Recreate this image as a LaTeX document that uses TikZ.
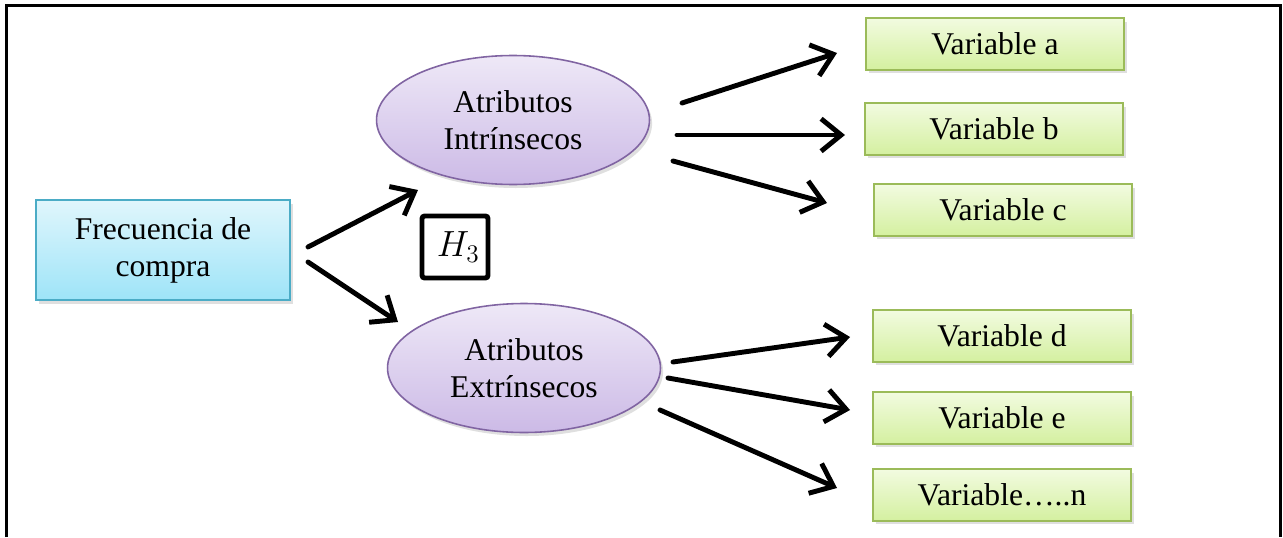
\documentclass[tikz,border=0pt]{standalone}
\usepackage{fontspec}
\setmainfont{Liberation Serif}
\usetikzlibrary{arrows.meta,shapes.geometric,shadows}

\definecolor{srcline}{RGB}{75,172,198}
\definecolor{srctop}{RGB}{224,246,252}
\definecolor{srcbot}{RGB}{158,228,248}
\definecolor{attrline}{RGB}{128,100,162}
\definecolor{attrtop}{RGB}{238,232,247}
\definecolor{attrbot}{RGB}{204,186,230}
\definecolor{varline}{RGB}{155,187,89}
\definecolor{vartop}{RGB}{242,251,224}
\definecolor{varbot}{RGB}{212,240,160}

\begin{document}
\begin{tikzpicture}[x=0.02cm, y=-0.02cm,
  font=\fontsize{18}{21}\selectfont,
  arr/.style={-{Straight Barb[length=4mm, width=6.5mm]}, line width=2.8pt, line cap=round},
  shade/.style={drop shadow={shadow xshift=1.5pt, shadow yshift=-2pt, opacity=0.25}},
  srcbox/.style={rectangle, draw=srcline, line width=0.9pt, top color=srctop,
    bottom color=srcbot, minimum width=5.08cm, minimum height=2.0cm, align=center, shade},
  attr/.style={ellipse, draw=attrline, line width=0.9pt, top color=attrtop,
    bottom color=attrbot, minimum width=5.46cm, minimum height=2.58cm, align=center, shade},
  varbox/.style={rectangle, draw=varline, line width=0.9pt, top color=vartop,
    bottom color=varbot, minimum width=5.16cm, minimum height=1.03cm, shade},
  hyp/.style={rectangle, draw, line width=2.8pt, rounded corners=1.5pt,
    minimum width=1.32cm, minimum height=1.24cm, font=\fontsize{22}{26}\selectfont}]
\useasboundingbox (0,0) rectangle (1283,537);
% ---------- frame (open at the bottom) ----------
\draw[line width=1.7pt] (6.5,537) -- (6.5,5.5) -- (1280.5,5.5) -- (1280.5,537);
% ---------- nodes ----------
\node[srcbox] (freq) at (163,250) {Frecuencia de\\compra};
\node[attr] (intr) at (513,120) {Atributos\\Intrínsecos};
\node[attr] (extr) at (524,368) {Atributos\\Extrínsecos};
\node[hyp] (h3) at (455,247) {\,$H_3$};
% variables
\node[varbox] (va) at (995,44)  {Variable a};
\node[varbox] (vb) at (994,129) {Variable b};
\node[varbox] (vc) at (1003,210) {Variable c};
\node[varbox] (vd) at (1002,336) {Variable d};
\node[varbox] (ve) at (1002,418) {Variable e};
\node[varbox] (vn) at (1002,495) {Variable…..n};
% ---------- arrows (free ends as named coordinates) ----------
\foreach \n/\xa/\ya/\xb/\yb in {fi/308/247/418/190, fe/308/262/398/322,
    ia/682/103/837/53, ib/677/135/845/135, ic/673/161/827/203,
    ed/673/362/850/337, ee/668/378/850/410, en/660/410/837/488}{
  \coordinate (\n0) at (\xa,\ya);
  \coordinate (\n1) at (\xb,\yb);
  \draw[arr] (\n0) -- (\n1);
}
\end{tikzpicture}
\end{document}
